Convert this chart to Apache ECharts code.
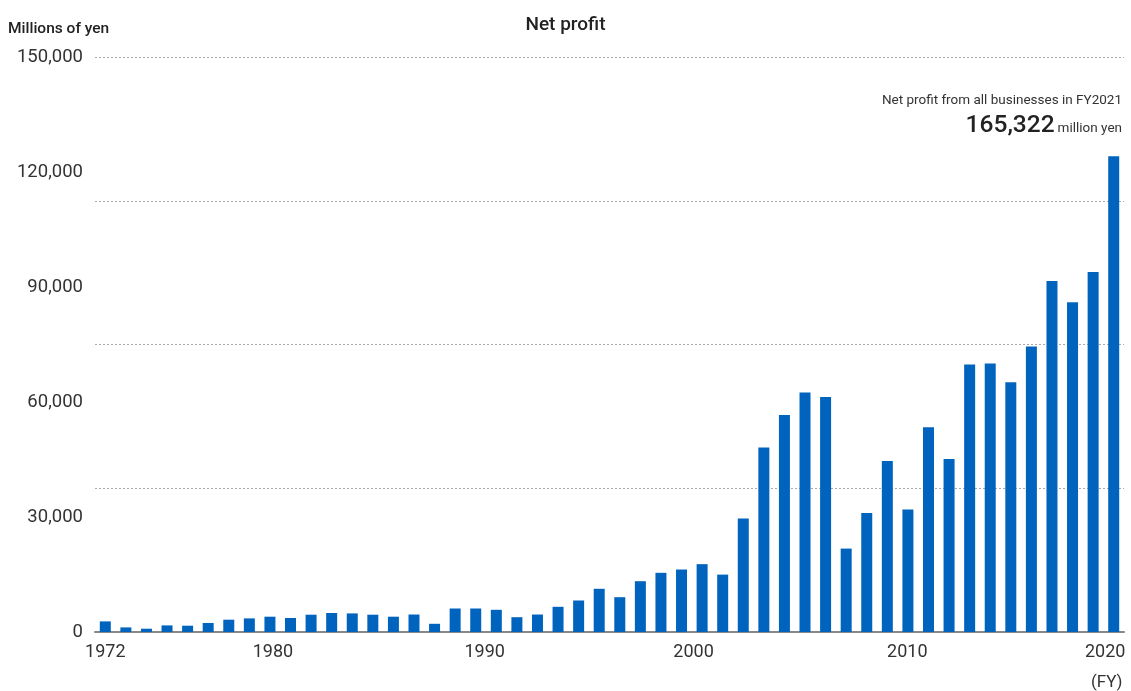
<!DOCTYPE html>
<html>
<head>
<meta charset="utf-8">
<title>Net profit</title>
<script src="https://cdn.jsdelivr.net/npm/echarts@6/dist/echarts.min.js"></script>
<style>
  html, body { margin: 0; padding: 0; background: #fff; }
  #chart { width: 1131px; height: 691px; }
</style>
</head>
<body>
<div id="chart"></div>
<script>
// fiscal years shown as bars
var years = [];
for (var y = 1972; y <= 2021; y++) years.push(String(y));

// net profit, millions of yen
var profit = [
  2770, 1200, 860, 1720, 1640, 2350, 3210, 3550, 3990, 3650,
  4510, 4960, 4850, 4510, 3990, 4560, 2140, 6130, 6130, 5790,
  3860, 4560, 6570, 8220, 11270, 9080, 13250, 15440, 16300, 17700,
  14970, 29580, 48100, 56600, 62500, 61300, 21760, 31040, 44610, 31930,
  53400, 45130, 69760, 70020, 65140, 74450, 91560, 86010, 93910, 124100
];

// which year labels appear under the axis
var yearLabels = ['1972', '1980', '1990', '2000', '2010', '2020'];

var labelFont = 'Roboto, "Noto Sans", sans-serif';

// in the original the year labels drift a bit right of their bars
var labelShift = { '1972': 0, '1980': 6, '1990': 18, '2000': 24, '2010': 40, '2020': 24 };

var rich = {};
yearLabels.forEach(function (v) {
  rich['y' + v] = { fontSize: 18, color: '#333', padding: [0, 0, 0, labelShift[v]] };
});

var chart = echarts.init(document.getElementById('chart'));

var option = {
  animation: false,
  textStyle: { fontFamily: labelFont },
  title: {
    text: 'Net profit',
    left: 'center',
    top: 11,
    textStyle: { fontSize: 19, fontWeight: 500, color: '#222', fontFamily: labelFont }
  },
  grid: { left: 95, right: 7, top: 57, bottom: 59 },
  xAxis: {
    type: 'category',
    data: years,
    axisTick: { show: false },
    axisLine: { lineStyle: { color: '#888', width: 2 } },
    axisLabel: {
      margin: 11,
      fontSize: 18,
      color: '#333',
      interval: function (i, v) { return yearLabels.indexOf(v) >= 0; },
      formatter: function (v) { return '{y' + v + '|' + v + '}'; },
      rich: rich
    }
  },
  yAxis: [{
    // labels every 30,000
    type: 'value',
    min: 0,
    max: 150000,
    interval: 30000,
    axisLine: { show: false },
    axisTick: { show: false },
    splitLine: { show: false },
    axisLabel: {
      margin: 12,
      fontSize: 18.5,
      color: '#333',
      formatter: function (v) { return v.toLocaleString('en-US'); }
    }
  }, {
    // dotted guide lines, drawn on their own spacing
    type: 'value',
    min: 0,
    max: 150000,
    interval: 37500,
    axisLine: { show: false },
    axisTick: { show: false },
    axisLabel: { show: false },
    splitLine: { lineStyle: { color: '#aaa', type: [2, 2], width: 1 } }
  }],
  graphic: [
    {
      type: 'text', left: 8, top: 21,
      style: { text: 'Millions of yen', fontSize: 15.5, fontWeight: 500, fill: '#222', fontFamily: labelFont }
    },
    {
      type: 'text', right: 9, top: 94,
      style: { text: 'Net profit from all businesses in FY2021', fontSize: 13.5, fill: '#333', fontFamily: labelFont }
    },
    {
      type: 'text', right: 9, top: 113,
      style: {
        text: '{big|165,322} {small|million yen}',
        fill: '#222',
        fontFamily: labelFont,
        rich: {
          big: { fontSize: 24.5, fontWeight: 500, fill: '#222', fontFamily: labelFont },
          small: { fontSize: 13.5, fill: '#333', fontFamily: labelFont, padding: [6, 0, 0, 0] }
        }
      }
    },
    {
      type: 'text', left: 1091, top: 674,
      style: { text: '(FY)', fontSize: 17, fill: '#333', fontFamily: labelFont }
    }
  ],
  series: [{
    type: 'bar',
    data: profit,
    barWidth: 11,
    itemStyle: { color: '#0064be' }
  }]
};

chart.setOption(option);
</script>
</body>
</html>
